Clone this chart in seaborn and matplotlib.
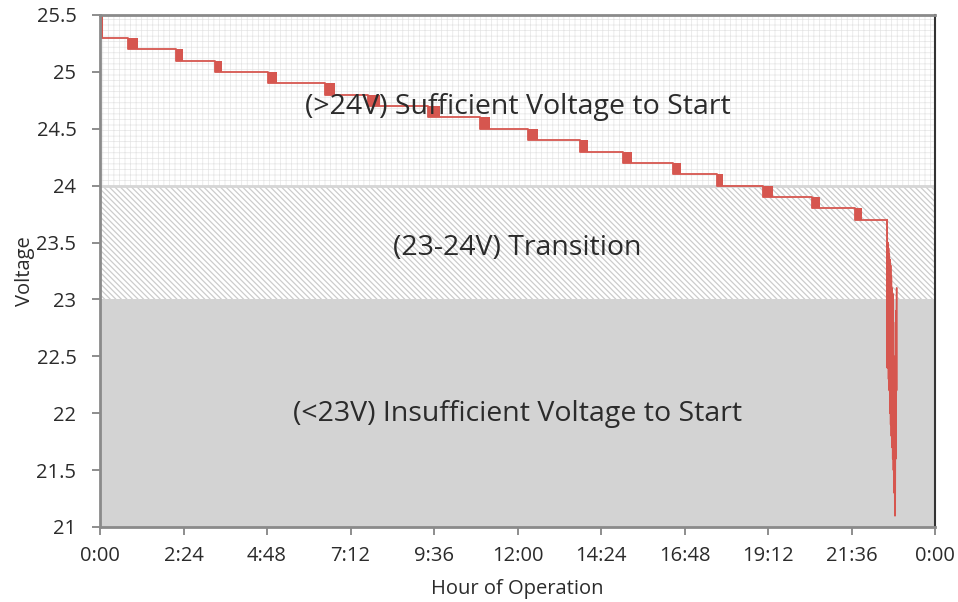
import numpy as np
import pandas as pd
import matplotlib
matplotlib.use("Agg")
import matplotlib.pyplot as plt
import seaborn as sns

# Voltage plateaus of the battery over one day of operation
levels = [25.5, 25.3, 25.2, 25.1, 25.0, 24.9, 24.8, 24.7, 24.6, 24.5,
          24.4, 24.3, 24.2, 24.1, 24.0, 23.9, 23.8, 23.7]
# Hour at which the reading starts flickering down to the next plateau
drop_hours = [0.0, 0.80, 2.18, 3.31, 4.83, 6.47, 7.70, 9.43, 10.92, 12.30,
              13.80, 15.03, 16.47, 17.73, 19.06, 20.47, 21.70]
# Length of each flicker window (hours)
flicker_len = [0.08, 0.29, 0.20, 0.20, 0.26, 0.29, 0.34, 0.34, 0.29, 0.29,
               0.23, 0.26, 0.23, 0.17, 0.29, 0.23, 0.20]

# Final collapse of the pack voltage
collapse_hours = [22.62, 22.63, 22.64, 22.645, 22.65, 22.655, 22.66, 22.67,
                  22.68, 22.69, 22.70, 22.71, 22.72, 22.73, 22.74, 22.75,
                  22.76, 22.77, 22.78, 22.79, 22.80, 22.81, 22.82, 22.83,
                  22.84, 22.85, 22.86, 22.87, 22.88, 22.89, 22.90]
collapse_volts = [23.70, 22.40, 23.50, 22.50, 23.40, 22.60, 23.45, 22.30,
                  23.40, 22.20, 23.35, 22.00, 23.30, 21.90, 23.20, 21.80,
                  23.10, 21.70, 23.05, 21.60, 22.80, 21.50, 22.50, 21.30,
                  22.30, 21.10, 22.40, 21.60, 22.90, 22.20, 23.10]

zone_labels = ["(>24V) Sufficient Voltage to Start",
               "(23-24V) Transition",
               "(<23V) Insufficient Voltage to Start"]
zone_label_volts = [24.69, 23.45, 21.99]

x_ticks = [0, 2.4, 4.8, 7.2, 9.6, 12.0, 14.4, 16.8, 19.2, 21.6, 24.0]
x_tick_labels = ["0:00", "2:24", "4:48", "7:12", "9:36", "12:00", "14:24",
                 "16:48", "19:12", "21:36", "0:00"]
y_ticks = [21, 21.5, 22, 22.5, 23, 23.5, 24, 24.5, 25, 25.5]
y_tick_labels = ["21", "21.5", "22", "22.5", "23", "23.5", "24", "24.5", "25", "25.5"]

sns.set_theme(style="white")
plt.rcParams["font.family"] = ["Open Sans", "DejaVu Sans"]

RED = "#d6564f"
TXT = "#2b2b2b"

fig = plt.figure(figsize=(9.58, 6.02), dpi=100)
ax = fig.add_axes([0.1044, 0.1246, 0.8716, 0.8505])
ax.set_xlim(0, 24)
ax.set_ylim(21, 25.5)

# Background zones
with plt.rc_context({"hatch.linewidth": 0.5}):
    ax.fill_between([0, 24], 24, 25.5, facecolor="white", edgecolor="#e4e4e4",
                    hatch="+++", linewidth=0, zorder=0)
with plt.rc_context({"hatch.linewidth": 0.9}):
    ax.fill_between([0, 24], 23, 24, facecolor="white", edgecolor="#cccccc",
                    hatch="\\" * 6, linewidth=0, zorder=0)
ax.fill_between([0, 24], 21, 23, facecolor="#d3d3d3", linewidth=0, zorder=0)
ax.axhline(24, color="#d6d6d6", lw=2.0, zorder=0.5)

# Stepped voltage trace
step_df = pd.DataFrame({
    "hour": [0.0] + drop_hours[1:] + [collapse_hours[0]],
    "volt": levels[1:] + [levels[-1]],
})
sns.lineplot(data=step_df, x="hour", y="volt", drawstyle="steps-post",
             color=RED, lw=1.3, estimator=None, ax=ax, zorder=3)
ax.plot([0, 0], [levels[0], levels[1]], color=RED, lw=1.3, zorder=3)

# Flicker windows between plateaus
for t, w, hi, lo in zip(drop_hours, flicker_len, levels[:-1], levels[1:]):
    ax.fill_between([t, t + w], lo, hi, color=RED, linewidth=0, zorder=3)

collapse_df = pd.DataFrame({"hour": collapse_hours, "volt": collapse_volts})
sns.lineplot(data=collapse_df, x="hour", y="volt", sort=False, estimator=None,
             color=RED, lw=1.4, ax=ax, zorder=3)

# Zone captions
for label, v in zip(zone_labels, zone_label_volts):
    ax.text(12.0, v, label, ha="center", va="center", fontsize=20.5, color=TXT,
            zorder=4)

ax.set_xticks(x_ticks)
ax.set_xticklabels(x_tick_labels)
ax.set_yticks(y_ticks)
ax.set_yticklabels(y_tick_labels)
ax.tick_params(axis="both", which="major", labelsize=14.5, colors="#7a7a7a",
               labelcolor=TXT, length=6, width=1.2, direction="out",
               bottom=True, left=True)
ax.tick_params(axis="x", pad=8)
ax.tick_params(axis="y", pad=11)
ax.set_xlabel("Hour of Operation", fontsize=14.5, color=TXT, labelpad=9)
ax.set_ylabel("Voltage", fontsize=14.5, color=TXT, labelpad=1)

for side in ["left", "bottom", "top"]:
    ax.spines[side].set_color("#8a8a8a")
    ax.spines[side].set_linewidth(2.0)
ax.spines["right"].set_color("#333333")
ax.spines["right"].set_linewidth(1.5)
for s in ax.spines.values():
    s.set_zorder(5)

fig.savefig("out.png", dpi=100)
